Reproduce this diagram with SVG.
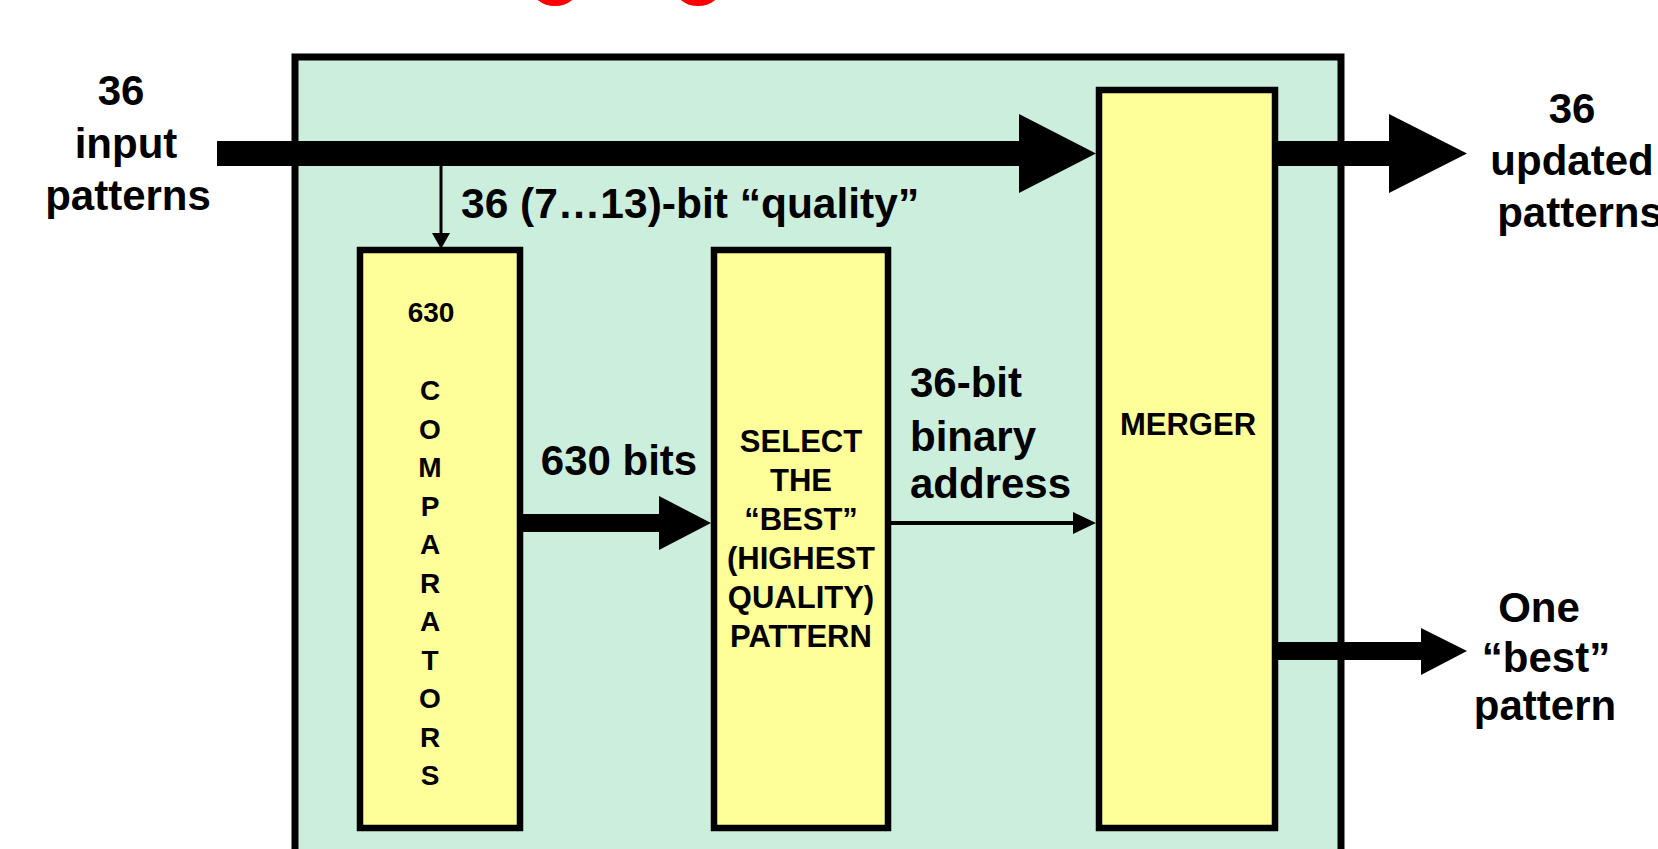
<svg xmlns="http://www.w3.org/2000/svg" width="1658" height="849" viewBox="0 0 1658 849">
<style>
.t{font-family:"Liberation Sans",Arial,sans-serif;font-weight:bold;fill:#000}
.lbl{font-size:42px}
.box{font-size:31px;text-anchor:middle}
.cmp{font-size:28px;text-anchor:middle}
.blk{fill:#000;stroke:none}
.yb{fill:#FFFF99;stroke:#000;stroke-width:6.5}
</style>
<rect width="1658" height="849" fill="#fff"/>
<g id="title-fragments" fill="none" stroke="#ff0000" stroke-width="8">
<ellipse cx="555" cy="-14" rx="20" ry="16"/>
<ellipse cx="698" cy="-14" rx="20" ry="16"/>
</g>
<g id="module">
<rect x="295" y="57" width="1046" height="830" fill="#CCEEDD" stroke="#000" stroke-width="7"/>
</g>
<g id="comparators">
<rect class="yb" x="360" y="250" width="160" height="578"/>
<text class="t cmp" x="431" y="322">630</text>
<text class="t cmp" x="430" y="400">C</text>
<text class="t cmp" x="430" y="438.5">O</text>
<text class="t cmp" x="430" y="477">M</text>
<text class="t cmp" x="430" y="515.5">P</text>
<text class="t cmp" x="430" y="554">A</text>
<text class="t cmp" x="430" y="592.5">R</text>
<text class="t cmp" x="430" y="631">A</text>
<text class="t cmp" x="430" y="669.5">T</text>
<text class="t cmp" x="430" y="708">O</text>
<text class="t cmp" x="430" y="746.5">R</text>
<text class="t cmp" x="430" y="785">S</text>
</g>
<g id="select">
<rect class="yb" x="714" y="250" width="174" height="578"/>
<text class="t box" x="801" y="452">SELECT</text>
<text class="t box" x="801" y="491">THE</text>
<text class="t box" x="801" y="530">“BEST”</text>
<text class="t box" x="801" y="569">(HIGHEST</text>
<text class="t box" x="801" y="608">QUALITY)</text>
<text class="t box" x="801" y="647">PATTERN</text>
</g>
<g id="merger">
<rect class="yb" x="1099" y="90" width="176" height="738"/>
<text class="t box" x="1188" y="435">MERGER</text>
</g>
<g id="connectors">
<path class="blk" d="M217 141 H1019 V114 L1096 153.5 L1019 193 V166 H217 Z"/>
<path class="blk" d="M1278 141 H1389 V114 L1467 153.5 L1389 193 V166 H1278 Z"/>
<path class="blk" d="M1278 642 H1421 V628 L1467 651 L1421 675 V660 H1278 Z"/>
<path class="blk" d="M523 514 H659 V496 L711 523 L659 550 V532 H523 Z"/>
<line x1="441" y1="165" x2="441" y2="236" stroke="#000" stroke-width="3"/>
<polygon class="blk" points="432,233 450,233 441,249"/>
<line x1="890" y1="523" x2="1076" y2="523" stroke="#000" stroke-width="4"/>
<polygon class="blk" points="1073,512 1096,523 1073,534"/>
</g>
<g id="label-input">
<text class="t lbl" text-anchor="middle" x="121" y="105">36</text>
<text class="t lbl" text-anchor="middle" x="126" y="158">input</text>
<text class="t lbl" text-anchor="middle" x="128" y="210">patterns</text>
</g>
<g id="label-quality">
<text class="t lbl" x="461" y="218" style="font-size:42.5px">36 (7…13)-bit “quality”</text>
</g>
<g id="label-630bits">
<text class="t lbl" text-anchor="middle" x="619" y="475">630 bits</text>
</g>
<g id="label-address">
<text class="t lbl" x="910" y="397">36-bit</text>
<text class="t lbl" x="910" y="451">binary</text>
<text class="t lbl" x="910" y="498">address</text>
</g>
<g id="label-updated">
<text class="t lbl" text-anchor="middle" x="1572" y="123">36</text>
<text class="t lbl" text-anchor="middle" x="1572" y="175">updated</text>
<text class="t lbl" text-anchor="middle" x="1580" y="227">patterns</text>
</g>
<g id="label-best">
<text class="t lbl" text-anchor="middle" x="1539" y="622">One</text>
<text class="t lbl" text-anchor="middle" x="1546" y="672">“best”</text>
<text class="t lbl" text-anchor="middle" x="1545" y="720">pattern</text>
</g>
</svg>
